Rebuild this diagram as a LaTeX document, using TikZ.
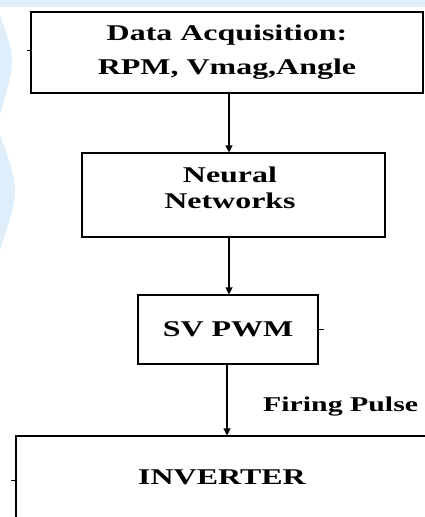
\documentclass[tikz,border=0pt]{standalone}
\usepackage{fontspec}
\setmainfont{Liberation Serif}
\usepackage{graphicx}
\usepackage{tikz}
\usetikzlibrary{arrows.meta}

\definecolor{paleblue}{RGB}{222,238,250}
\newcommand{\wide}[1]{\scalebox{1.42}[1]{#1}}

\tikzset{
  block/.style={draw, line width=1.1pt, inner sep=0pt, align=center,
    font=\fontsize{22.5}{34}\selectfont\bfseries},
  label text/.style={inner sep=0pt, align=center,
    font=\fontsize{22.5}{26}\selectfont\bfseries},
  flow/.style={line width=1.1pt, -{Triangle[length=7pt,width=7pt]}}
}

\begin{document}
\begin{tikzpicture}[x=1pt,y=-1pt]
\useasboundingbox (0,0) rectangle (425,517);
\clip (0,0) rectangle (425,517);

% faint background blotches
\fill [paleblue] (0,0) rectangle (425,7);
\fill [paleblue] (0,15) .. controls (16,60) .. (0,115);
\fill [paleblue] (0,135) .. controls (20,190) .. (0,250);

% blocks
\node [block, minimum width=392, minimum height=81] (daq) at (227,52.5) {\wide{Data Acquisition:}\\\wide{RPM, Vmag,Angle}};
\node [block, minimum width=303, minimum height=84] (nn) at (233.5,195) {};
\node [label text] (nntext) at (230,188) {\wide{Neural}\\\wide{Networks}};
\node [block, minimum width=180, minimum height=69] (svpwm) at (228,329.5) {\wide{SV PWM}};
\node [block, minimum width=420, minimum height=130] (inv) at (226,501) {};
\node [label text] (invtext) at (222,477) {\wide{INVERTER}};

% arrows
\draw [flow] (daq.south -| 229,0) -- (nn.north -| 229,0);
\draw [flow] (nn.south -| 229,0) -- (svpwm.north -| 229,0);
\draw [flow] (svpwm.south -| 227,0) -- (inv.north -| 227,0);
\node [font=\fontsize{21}{24}\selectfont\bfseries, anchor=west, inner sep=0pt] (fp) at (263,407) {\wide{Firing Pulse}};

% little ticks
\draw [line width=0.8pt] (daq.west) ++(0,-2) -- ++(-3,0);
\draw [line width=0.8pt] (svpwm.east) -- ++(5,0);
\draw [line width=0.8pt] (16,480) -- (11,480);
\end{tikzpicture}
\end{document}
